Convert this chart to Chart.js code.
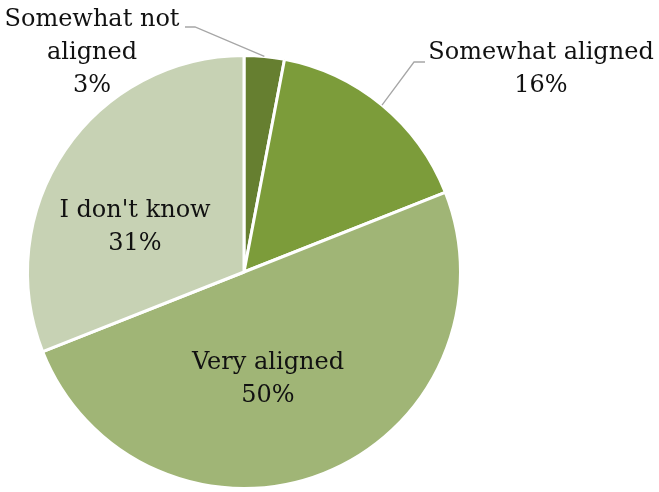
<!DOCTYPE html>
<html>
<head>
<meta charset="utf-8">
<script src="https://cdn.jsdelivr.net/npm/chart.js@4/dist/chart.umd.min.js"></script>
<style>
  html, body { margin: 0; padding: 0; background: #fff; }
  #wrap { width: 659px; height: 492px; position: relative; }
</style>
</head>
<body>
<div id="wrap"><canvas id="pie"></canvas></div>
<script>
// ========== DATA ========== //
const categories = ['Somewhat not aligned', 'Somewhat aligned', 'Very aligned', "I don't know"];
const shares = [3, 16, 50, 31];
const sliceColors = ['#667f30', '#7c9c3a', '#a0b576', '#c7d2b4'];

// label text lines per slice
const labelLines = [
    ['Somewhat not', 'aligned', '3%'],
    ['Somewhat aligned', '16%'],
    ['Very aligned', '50%'],
    ["I don't know", '31%']
];

// ========== LABEL PLUGIN ========== //
// where each label block sits (centre of text), relative to the pie centre
const labelPlace = [
    { dx: -152, dy: -219, leader: { elbow: [-49, -245], end: [-59, -245] } },
    { dx: 297, dy: -203, leader: { elbow: [170, -210], end: [181, -210] } },
    { dx: 24, dy: 107 },
    { dx: -109, dy: -45 }
];

const pieLabels = {
    id: 'pieLabels',
    afterDatasetsDraw(chart) {
        const ctx = chart.ctx;
        const meta = chart.getDatasetMeta(0);
        ctx.save();
        meta.data.forEach((arc, i) => {
            const { x, y, outerRadius, startAngle, endAngle } = arc.getProps(['x', 'y', 'outerRadius', 'startAngle', 'endAngle'], true);
            const p = labelPlace[i];
            if (p.leader) {
                const mid = (startAngle + endAngle) / 2;
                ctx.strokeStyle = '#a6a6a6';
                ctx.lineWidth = 1.3;
                ctx.beginPath();
                ctx.moveTo(x + Math.cos(mid) * outerRadius, y + Math.sin(mid) * outerRadius);
                ctx.lineTo(x + p.leader.elbow[0], y + p.leader.elbow[1]);
                ctx.lineTo(x + p.leader.end[0], y + p.leader.end[1]);
                ctx.stroke();
            }
            const lines = labelLines[i];
            const lh = 33;
            ctx.fillStyle = '#111111';
            ctx.font = '24px "DejaVu Serif"';
            ctx.textAlign = 'center';
            ctx.textBaseline = 'middle';
            lines.forEach((t, k) => {
                ctx.fillText(t, x + p.dx, y + p.dy + (k - (lines.length - 1) / 2) * lh);
            });
        });
        ctx.restore();
    }
};

// ========== CHART ========== //
new Chart(document.getElementById('pie'), {
    type: 'pie',
    data: {
        labels: categories,
        datasets: [{
            data: shares,
            backgroundColor: sliceColors,
            borderColor: '#ffffff',
            borderWidth: 3
        }]
    },
    options: {
        responsive: true,
        maintainAspectRatio: false,
        animation: false,
        layout: { padding: { left: 26, right: 197, top: 54, bottom: 2 } },
        plugins: {
            legend: { display: false },
            tooltip: { enabled: false }
        }
    },
    plugins: [pieLabels]
});
</script>
</body>
</html>
